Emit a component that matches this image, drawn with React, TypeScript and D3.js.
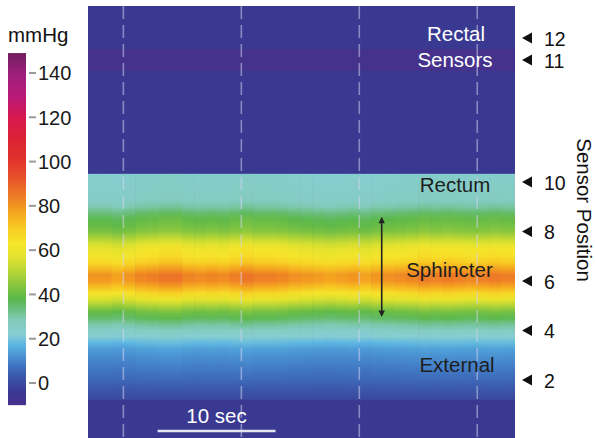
import React from 'react';
import * as d3 from 'd3';

const W = 596;
const H = 438;
const FONT = "'Liberation Sans', Arial, Helvetica, sans-serif";

// ---- colour map (mmHg -> colour) ----
const colorStops = [-10, -4, 2, 7, 12, 17, 22, 28, 33, 38, 44, 50, 57, 63, 70, 77, 84, 92, 100, 110, 120, 130, 140, 150];
const colorValues = [
  '#46308b', '#3a3992', '#3b52a6', '#3e6ebd', '#4a92d2', '#5ab5e2', '#86cdd3', '#84cbbd',
  '#6cbf85', '#5bb84a', '#86c53f', '#b5d536', '#e2e22e', '#f6e52b', '#f8cb22', '#f4a620',
  '#ee7d25', '#e8552a', '#e1352a', '#dc2232', '#d6184f', '#b81a7a', '#9c1f7b', '#6c1d5c',
];
const colorbarTicks = [0, 20, 40, 60, 80, 100, 120, 140];
const colorbarRange = [-10, 149];

// ---- time axis (seconds) ----
const timeDomain = [-3, 33.2];
const columnStarts = [-3, -2, -1, 0, 1, 2, 3, 4, 5, 6, 7, 8, 9, 10, 11, 12, 13, 14, 15, 16, 17, 18, 19, 20, 21, 22, 23, 24, 25, 26, 27, 28, 29, 30, 31, 32, 33];
const sphincterPeak = [80, 80, 78, 80, 83, 84, 86, 86, 83, 82, 83, 82, 84, 86, 84, 84, 83, 81, 80, 79, 78, 79, 80, 78, 80, 81, 82, 83, 85, 84, 85, 84, 83, 84, 85, 84, 84];
const gridTimes = [0, 10, 20, 30];
const scaleBar = [2.9, 12.9];
const arrowTime = 21.9;

// ---- pressure profile along the anal canal (sensor position -> mmHg) ----
const profileSensor = [10.25, 10, 9.75, 9.5, 9.25, 9, 8.75, 8.5, 8.25, 8, 7.75, 7.5, 7.25, 7, 6.75, 6.5, 6.25, 6, 5.75, 5.5, 5.25, 5, 4.75, 4.5, 4.25, 4, 3.75, 3.5, 3.25, 3, 2.75, 2.5, 2.25, 2, 1.75, 1.5, 1.25];
const profilePressure = [24, 25, 25, 26, 27, 30, 35, 39, 41, 44, 50, 57, 62, 64, 69, 76, 83, 82, 75, 66, 58, 49, 41, 37, 31, 26, 23, 18, 14, 12, 10.5, 9, 7.5, 6, 4, 2, 0];
const canalExtent = [10.33, 1.2];
const sphincterRange = [8.6, 4.55];

// ---- rectal sensors ----
const rectalSensors = [12, 11];
const rectalPressure = [-4, -9];
const backgroundPressure = -4;

const sensorTicks = [12, 11, 10, 8, 6, 4, 2];

const regionLabels = [
  { text: 'Rectal', x: 456, y: 41, fill: '#ffffff' },
  { text: 'Sensors', x: 455, y: 67, fill: '#ffffff' },
  { text: 'Rectum', x: 455, y: 192, fill: '#1e1e1e' },
  { text: 'Sphincter', x: 449.5, y: 277, fill: '#1e1e1e' },
  { text: 'External', x: 457, y: 372, fill: '#1e1e1e' },
];

export default function App() {
  const plot = { left: 88, right: 515, top: 6, bottom: H };
  const x = d3.scaleLinear().domain(timeDomain).range([plot.left, plot.right]);
  const yCanal = d3.scaleLinear().domain([10, 2]).range([182, 380]);
  const yRectal = d3.scaleLinear().domain([12, 11]).range([38, 60]);
  const yBar = d3.scaleLinear().domain([0, 140]).range([383, 73]);
  const color = d3
    .scaleLinear<string>()
    .domain(colorStops)
    .range(colorValues)
    .interpolate(d3.interpolateRgb)
    .clamp(true);

  const bandTop = yCanal(canalExtent[0]);
  const bandBot = yCanal(canalExtent[1]);
  const profileMax = d3.max(profilePressure) as number;

  const barTop = yBar(colorbarRange[1]);
  const barBot = yBar(colorbarRange[0]);
  const barSamples = d3.range(colorbarRange[0], colorbarRange[1] + 0.001, 1);

  return (
    <svg
      width={W}
      height={H}
      style={{ position: 'absolute', left: 0, top: 0, background: '#ffffff' }}
      fontFamily={FONT}
    >
      <defs>
        <linearGradient id="cbar" gradientUnits="userSpaceOnUse" x1={0} x2={0} y1={barBot} y2={barTop}>
          {barSamples.map((v, i) => (
            <stop key={i} offset={(yBar(v) - barBot) / (barTop - barBot)} stopColor={color(v)} />
          ))}
        </linearGradient>
        {columnStarts.map((t, i) => (
          <linearGradient
            key={i}
            id={`col${i}`}
            gradientUnits="userSpaceOnUse"
            x1={0}
            x2={0}
            y1={bandTop}
            y2={bandBot}
          >
            {profileSensor.map((s, j) => (
              <stop
                key={j}
                offset={(yCanal(s) - bandTop) / (bandBot - bandTop)}
                stopColor={color((profilePressure[j] * sphincterPeak[i]) / profileMax)}
              />
            ))}
          </linearGradient>
        ))}
      </defs>

      {/* background (no pressure) */}
      <rect
        x={plot.left}
        y={plot.top}
        width={plot.right - plot.left}
        height={plot.bottom - plot.top}
        fill={color(backgroundPressure)}
      />
      {/* rectal sensors */}
      {rectalSensors.map((s, i) => (
        <rect
          key={s}
          x={plot.left}
          y={yRectal(s + 0.5)}
          width={plot.right - plot.left}
          height={yRectal(s - 0.5) - yRectal(s + 0.5)}
          fill={color(rectalPressure[i])}
        />
      ))}
      {/* anal canal columns */}
      {columnStarts.map((t, i) => {
        const x0 = x(t);
        const x1 = x(Math.min(t + 1, timeDomain[1]));
        return (
          <rect
            key={i}
            x={x0}
            y={bandTop}
            width={Math.max(0, x1 - x0 + (i < columnStarts.length - 1 ? 0.6 : 0))}
            height={bandBot - bandTop}
            fill={`url(#col${i})`}
          />
        );
      })}

      {/* dashed time grid */}
      {gridTimes.map((t) => (
        <line
          key={t}
          x1={x(t)}
          x2={x(t)}
          y1={plot.top}
          y2={plot.bottom}
          stroke="rgba(215,215,245,0.5)"
          strokeWidth={1.6}
          strokeDasharray="13 6"
        />
      ))}

      {/* sphincter double arrow */}
      <g fill="#222" stroke="#222">
        <line
          x1={x(arrowTime)}
          x2={x(arrowTime)}
          y1={yCanal(sphincterRange[0]) + 3}
          y2={yCanal(sphincterRange[1]) - 3}
          strokeWidth={1.6}
        />
        <path
          stroke="none"
          d={`M${x(arrowTime)},${yCanal(sphincterRange[0])} l-3.2,6.5 l6.4,0 z`}
        />
        <path
          stroke="none"
          d={`M${x(arrowTime)},${yCanal(sphincterRange[1])} l-3.2,-6.5 l6.4,0 z`}
        />
      </g>

      {/* region labels */}
      {regionLabels.map((l) => (
        <text key={l.text} x={l.x} y={l.y} textAnchor="middle" fontSize={20.5} fill={l.fill}>
          {l.text}
        </text>
      ))}

      {/* scale bar */}
      <line
        x1={x(scaleBar[0])}
        x2={x(scaleBar[1])}
        y1={431}
        y2={431}
        stroke="#e4e4ee"
        strokeWidth={2.5}
      />
      <text
        x={(x(scaleBar[0]) + x(scaleBar[1])) / 2}
        y={423}
        textAnchor="middle"
        fontSize={20.5}
        fill="#ffffff"
      >
        10 sec
      </text>

      {/* sensor position markers */}
      {sensorTicks.map((s) => {
        const yy = s >= 11 ? yRectal(s) : yCanal(s);
        return (
          <g key={s}>
            <path d={`M522,${yy} L532,${yy - 5.5} L532,${yy + 5.5} Z`} fill="#111" />
            <text x={544} y={yy + 7.5} fontSize={19.5} fill="#111">
              {s}
            </text>
          </g>
        );
      })}
      <text
        transform={`translate(577,210) rotate(90)`}
        textAnchor="middle"
        fontSize={20.5}
        fill="#111"
      >
        Sensor Position
      </text>

      {/* colour bar */}
      <text x={8} y={42} fontSize={20.5} fill="#111">
        mmHg
      </text>
      <rect x={8} y={barTop} width={18} height={barBot - barTop} fill="url(#cbar)" />
      {colorbarTicks.map((v) => (
        <g key={v}>
          <line x1={29} x2={36} y1={yBar(v)} y2={yBar(v)} stroke="#9a9a9a" strokeWidth={2} />
          <text x={38} y={yBar(v) + 7.3} fontSize={20} fill="#1a1a1a">
            {v}
          </text>
        </g>
      ))}
    </svg>
  );
}
